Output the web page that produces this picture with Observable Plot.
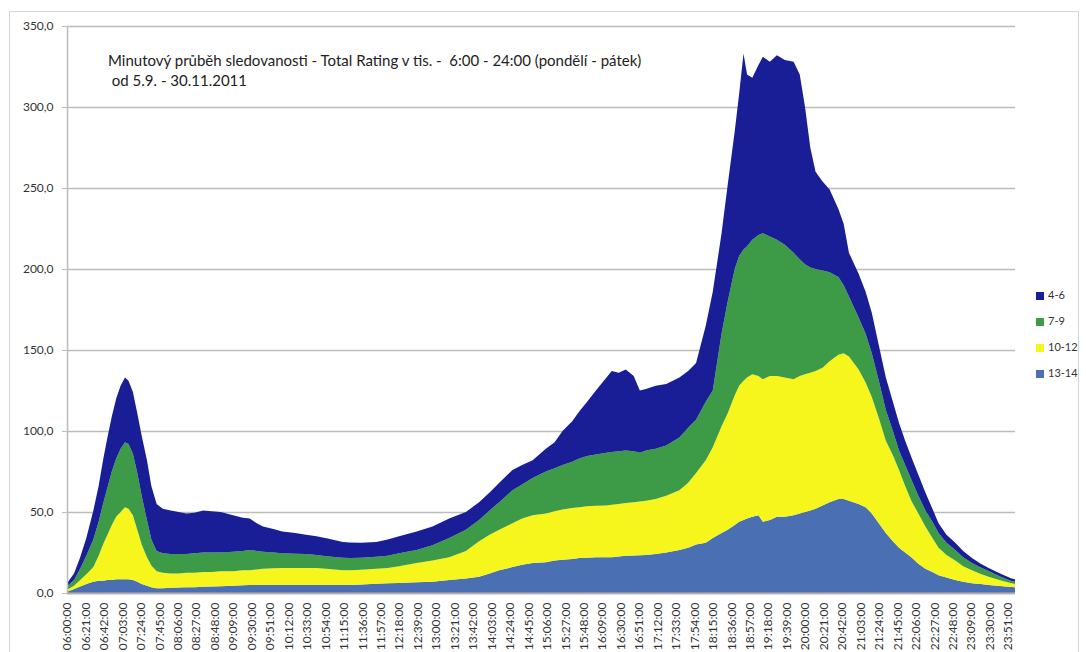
<!DOCTYPE html>
<html>
<head>
<meta charset="utf-8">
<script src="https://cdn.jsdelivr.net/npm/d3@7"></script>
<script src="https://cdn.jsdelivr.net/npm/@observablehq/plot@0.6"></script>
<style>
  html, body { margin: 0; padding: 0; background: #fff; }
  #wrap { position: relative; width: 1086px; height: 652px; overflow: hidden; font-family: Lato, "Open Sans", sans-serif; }
  #frame { position: absolute; left: 9px; top: 11px; width: 1070px; height: 660px; border: 1px solid #d4d4d4; box-sizing: border-box; }
  #chart { position: absolute; left: 0; top: 0; }
  #title { position: absolute; left: 108px; top: 50px; font-size: 15px; line-height: 20px; color: #222; white-space: pre; }
  #legend { position: absolute; left: 1036px; top: 288px; font-size: 11px; color: #333; }
  #legend .item { height: 26px; display: flex; align-items: flex-start; }
  #legend .sw { width: 8px; height: 8px; margin-top: 4px; margin-right: 4px; }
</style>
</head>
<body>
<div id="wrap">
  <div id="frame"></div>
  <div id="chart"></div>
  <div id="title"></div>
  <div id="legend"></div>
</div>
<script>
// ---- data ----
const titleLines = [
  "Minutový průběh sledovanosti - Total Rating v tis. -  6:00 - 24:00 (pondělí - pátek)",
  " od 5.9. - 30.11.2011"
];

const times = [
  "06:00","06:08","06:15","06:22","06:30","06:36","06:41","06:46","06:51","06:56",
  "07:01","07:06","07:10","07:15","07:20","07:25","07:31","07:36","07:42","07:49",
  "07:58","08:07","08:16","08:25","08:35","08:45","08:55","09:09","09:20","09:28",
  "09:36","09:43","09:55","10:05","10:20","10:32","10:44","10:58","11:14","11:22",
  "11:35","11:52","12:05","12:18","12:38","12:56","13:15","13:34","13:49","14:01",
  "14:12","14:27","14:38","14:50","15:05","15:15","15:24","15:35","15:43","15:52",
  "16:02","16:14","16:20","16:28","16:36","16:45","16:52","16:59","17:10","17:22",
  "17:37","17:47","17:56","18:07","18:15","18:25","18:32","18:40","18:45","18:50",
  "18:54","19:00","19:07","19:12","19:20","19:28","19:37","19:47","19:54","20:00",
  "20:06","20:12","20:20","20:28","20:38","20:44","20:50","21:01","21:09","21:16",
  "21:24","21:32","21:40","21:47","21:54","22:01","22:09","22:17","22:25","22:32",
  "22:41","22:51","23:00","23:10","23:20","23:29","23:42","23:55","23:59"
];

const g13_14 = [
  0.8,2.5,4,5.5,7,7.5,7.5,8,8,8.5,
  8.5,8.5,8.5,8,7,5.5,4.5,3.5,3,3,
  3.2,3.4,3.5,3.6,3.8,4,4.2,4.5,4.8,5,
  5,5,5,5,5,5,5,5,5,5,
  5.3,5.7,6,6.2,6.6,7,8,9,10,12,
  14,16,17.5,18.5,19,20,20.5,21,21.6,21.8,
  22,22,22,22.5,23,23.2,23.3,23.5,24,25,
  26.5,28,30,31,34,37,39,42,44,45,
  46,47,48,44,45,47,47,48,49,50,
  51,52,54,56,58,58,57,55,53,49,
  43,37,32,28,25,22,18,15,13,11,
  9.5,8,7,6,5.5,5,4.3,3.7,3.5
];

const g10_12 = [
  1.2,2,4,6,9,15.5,22.5,28,34,38.5,
  41.5,44.5,43.5,40,32,24.5,17.5,13.5,10.5,9.5,
  8.8,8.6,9,8.9,9.2,9,9.3,9,9.2,9,
  9.5,10,10.3,10.4,10.4,10.4,10.4,9.8,9,9,
  9,9.3,9.4,10.3,11.9,13,14,17,22,24,
  25,27,28.5,29.5,30,30.5,31,31.5,31.4,31.7,
  31.8,32,32.5,32.5,32.5,32.8,33.2,33.5,34,35,
  37,40,44,51,56,66,72,80,84,86,
  87,88,86,88,89,87,86,84,85,85,
  85,85,85,87,89,90,89,83,77,72,
  65,57,53,48,41,35,31,26,21,17,
  14,12,9.5,8,6.3,5,3.5,2.3,2
];

const g7_9 = [
  2,3.5,7,11.5,17,21,25,29,33,36,
  39,40,40,38,35,30,23,16,12.5,12,
  12,12,11.5,12,12,12,11.5,12,12,12.5,
  11.5,10.5,9.7,9.2,8.8,8.6,8.1,7.7,7.8,7.6,
  7.5,7.3,7.6,8,8,9.5,12,13,13,15,
  17,20.5,21,23,26,26.5,27.5,28.5,30,31,
  31.7,32.5,32.5,32.5,32.5,31.5,30,31,31,31,
  32.5,34,33,36,35,57,69,78,80,81,
  81,83,87,90,86,84,82,78,72,68,
  65,63,60,55,48,42,37,32,30,27,
  23,19,15,12,13,13,11,10,10,9,
  7.5,6.5,5.5,4.5,4,3.6,2.4,1.4,1.5
];

const g4_6 = [
  2,4,7,11,18,22,27,31,34,37,
  39,40,39,38,37,37,37,33,29,27.5,
  27,26,25,25,26,25.5,25,22.5,20.5,19.5,
  17,15.5,14.5,13.4,12.8,12,11.5,11,9.7,9.6,
  9.2,9.2,10,10.5,11.5,11.5,12,11,11,11,
  12,12.5,12,11,14,16,21,25,29,33.5,
  39.5,46.5,50,48.5,50,46.5,38.5,38,39,38,
  37,35,35,47,61,62,72,85,100,121,
  106,100,105,109,108,114,114,118,114,97,
  74,60,55,51,42,38,27,27,26,25,
  22,20,18,17,15,14,13,11,8,6,
  5,4.5,4,3.1,2.2,1.8,1.8,1.6,1.5
];

const legendGroups = ["4-6", "7-9", "10-12", "13-14"];
const groupColors = ["#1a1e96", "#3d9a47", "#f6f61c", "#4a70b3"];
const stackOrder = ["13-14", "10-12", "7-9", "4-6"];

const yTicks = [0, 50, 100, 150, 200, 250, 300, 350];

const xTickLabels = [
  "06:00:00","06:21:00","06:42:00","07:03:00","07:24:00","07:45:00","08:06:00","08:27:00","08:48:00","09:09:00",
  "09:30:00","09:51:00","10:12:00","10:33:00","10:54:00","11:15:00","11:36:00","11:57:00","12:18:00","12:39:00",
  "13:00:00","13:21:00","13:42:00","14:03:00","14:24:00","14:45:00","15:06:00","15:27:00","15:48:00","16:09:00",
  "16:30:00","16:51:00","17:12:00","17:33:00","17:54:00","18:15:00","18:36:00","18:57:00","19:18:00","19:39:00",
  "20:00:00","20:21:00","20:42:00","21:03:00","21:24:00","21:45:00","22:06:00","22:27:00","22:48:00","23:09:00",
  "23:30:00","23:51:00"
];

// ---- build ----
const toMin = s => { const p = s.split(":").map(Number); return (p[0] - 6) * 60 + p[1]; };
const seriesByGroup = { "4-6": g4_6, "7-9": g7_9, "10-12": g10_12, "13-14": g13_14 };
const data = stackOrder.flatMap(g => seriesByGroup[g].map((v, i) => ({ t: toMin(times[i]), group: g, value: v })));
const xTickPos = xTickLabels.map(toMin);
const labelAt = new Map(xTickPos.map((p, i) => [p, xTickLabels[i]]));

const chart = Plot.plot({
  width: 1086,
  height: 652,
  marginLeft: 67,
  marginRight: 71,
  marginTop: 26,
  marginBottom: 59,
  style: { fontFamily: "Lato, 'Open Sans', sans-serif", background: "transparent", overflow: "visible" },
  x: { domain: [0, 1079], axis: null, label: null },
  y: { domain: [0, 350], axis: null, label: null },
  color: { domain: legendGroups, range: groupColors },
  marks: [
    Plot.ruleY(yTicks.filter(d => d > 0), { stroke: "#bcbcbc", strokeWidth: 1.5 }),
    Plot.areaY(data, { x: "t", y: "value", z: "group", fill: "group", order: stackOrder, curve: "linear" }),
    Plot.ruleY([0], { stroke: "#b8b0b0", strokeWidth: 2 }),
    Plot.ruleX([0], { stroke: "#bcbcbc", strokeWidth: 1.5 }),
    Plot.axisY({ ticks: yTicks, tickFormat: d => d.toFixed(1).replace(".", ","), tickSize: 5, tickPadding: 9,
                 stroke: "#bcbcbc", fill: "#333", fontSize: 12, label: null }),
    Plot.axisX({ ticks: xTickPos, tickFormat: d => labelAt.get(d), tickRotate: -90, tickSize: 0, tickPadding: 9,
                 fill: "#333", fontSize: 12, label: null })
  ]
});
document.getElementById("chart").appendChild(chart);

document.getElementById("title").textContent = titleLines.join("\n");

const legend = document.getElementById("legend");
legendGroups.forEach((g, i) => {
  const item = document.createElement("div");
  item.className = "item";
  const sw = document.createElement("div");
  sw.className = "sw";
  sw.style.background = groupColors[i];
  const lab = document.createElement("span");
  lab.textContent = g;
  item.appendChild(sw);
  item.appendChild(lab);
  legend.appendChild(item);
});
</script>
</body>
</html>
